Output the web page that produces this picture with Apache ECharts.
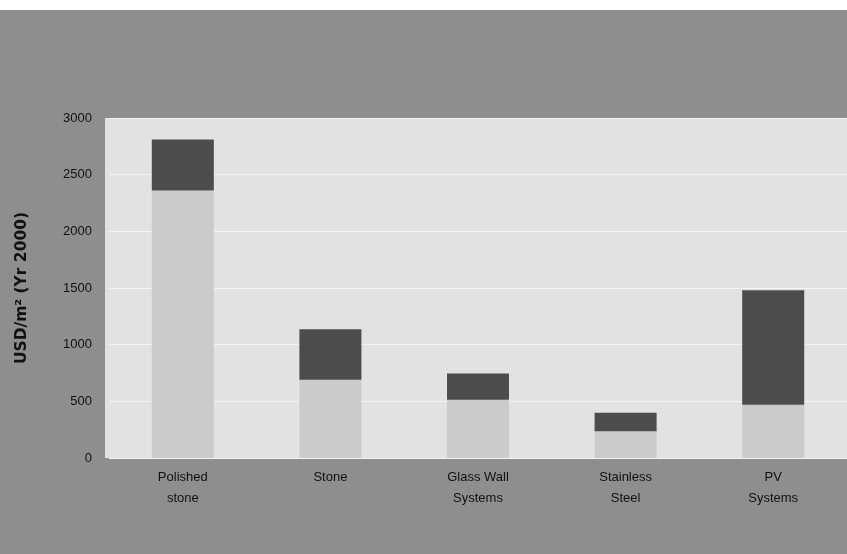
<!DOCTYPE html>
<html>
<head>
<meta charset="utf-8">
<style>
  html, body { margin: 0; padding: 0; background: #ffffff; }
  #chart { width: 847px; height: 554px; }
</style>
<script src="https://cdn.jsdelivr.net/npm/echarts@6/dist/echarts.min.js"></script>
</head>
<body>
<div id="chart"></div>
<script>
// Facade material costs, USD per square metre (year-2000 prices)
const categories = ['Polished\nstone', 'Stone', 'Glass Wall\nSystems', 'Stainless\nSteel', 'PV\nSystems'];
// lower (light) segment of each bar
const baseCost = [2360, 690, 515, 235, 470];
// upper (dark) segment stacked on top
const rangeCost = [450, 445, 230, 165, 1010];
const yTicks = { min: 0, max: 3000, step: 500 };

const chart = echarts.init(document.getElementById('chart'), null, { renderer: 'canvas' });

const font = '"Liberation Sans", Arial, sans-serif';

chart.setOption({
  backgroundColor: '#8e8e8e',
  animation: false,
  graphic: [
    { type: 'rect', z: -1, left: 0, top: 0, shape: { width: 847, height: 10 }, style: { fill: '#ffffff' } },
    { type: 'rect', z: -1, left: 105, top: 118, shape: { width: 742, height: 340 }, style: { fill: '#e2e2e2' } }
  ],
  grid: { left: 109, right: -4, top: 118, bottom: 96 },
  xAxis: {
    type: 'category',
    data: categories,
    axisLine: { show: false },
    axisTick: { show: false },
    axisLabel: { color: '#111', fontFamily: font, fontSize: 13, lineHeight: 21, margin: 9, verticalAlign: 'top' }
  },
  yAxis: {
    type: 'value',
    min: yTicks.min,
    max: yTicks.max,
    interval: yTicks.step,
    name: 'USD/m² (Yr 2000)',
    nameLocation: 'middle',
    nameGap: 79,
    nameTextStyle: { color: '#111', fontFamily: '"DejaVu Sans", sans-serif', fontSize: 15.5, fontWeight: 'bold' },
    axisLine: { show: false },
    axisTick: { show: false },
    axisLabel: { color: '#111', fontFamily: font, fontSize: 13, margin: 17, formatter: v => String(v) },
    splitLine: { show: true, lineStyle: { color: '#f4f4f4', width: 1 } }
  },
  series: [
    {
      type: 'bar',
      stack: 'cost',
      data: baseCost,
      barWidth: 62,
      itemStyle: { color: '#cbcbcb' }
    },
    {
      type: 'bar',
      stack: 'cost',
      data: rangeCost,
      barWidth: 62,
      itemStyle: { color: '#4c4c4c' }
    }
  ]
});
</script>
</body>
</html>
